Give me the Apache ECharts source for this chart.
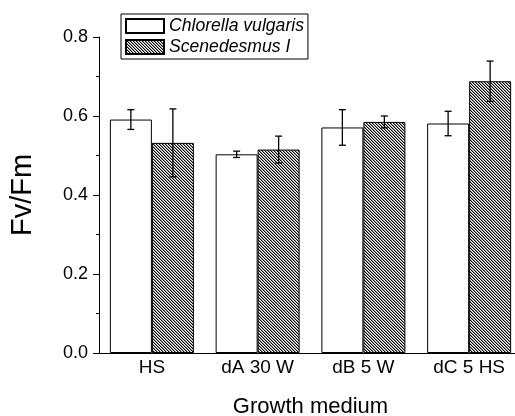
<!DOCTYPE html>
<html>
<head>
<meta charset="utf-8">
<script src="https://cdn.jsdelivr.net/npm/echarts@6/dist/echarts.min.js"></script>
<style>html,body{margin:0;padding:0;background:#fff;}#c{width:515px;height:416px;}</style>
</head>
<body>
<div id="c"></div>
<script>
var categories = ['HS', 'dA 30 W', 'dB 5 W', 'dC 5 HS'];
var chlorella = [0.591, 0.503, 0.571, 0.581];
var chlorellaErr = [0.025, 0.008, 0.045, 0.031];
var scenedesmus = [0.532, 0.515, 0.585, 0.688];
var scenedesmusErr = [0.086, 0.034, 0.015, 0.051];
var yTicks = [0.0, 0.2, 0.4, 0.6, 0.8];

var FONT = 'Arial, "Liberation Sans", sans-serif';
var BAR_W = 42;

function makeHatch() {
  var n = 3;
  var cv = document.createElement('canvas');
  cv.width = n; cv.height = n;
  var ctx = cv.getContext('2d');
  var img = ctx.createImageData(n, n);
  for (var y = 0; y < n; y++) {
    for (var x = 0; x < n; x++) {
      var m = ((x - y) % n + n) % n;
      var v = m === 0 ? 0 : (m === 1 ? 150 : 255);
      var k = (y * n + x) * 4;
      img.data[k] = v; img.data[k + 1] = v; img.data[k + 2] = v; img.data[k + 3] = 255;
    }
  }
  ctx.putImageData(img, 0, 0);
  return cv;
}
var hatch = { image: makeHatch(), repeat: 'repeat' };

function errData(vals, errs) {
  return vals.map(function (v, i) { return [i, v - errs[i], v + errs[i]]; });
}

function errSeries(vals, errs, side) {
  return {
    type: 'custom',
    z: 10,
    silent: true,
    data: errData(vals, errs),
    renderItem: function (params, api) {
      var lo = api.coord([api.value(0), api.value(1)]);
      var hi = api.coord([api.value(0), api.value(2)]);
      var x = lo[0] + side * BAR_W / 2;
      var cap = 3.5;
      var st = { stroke: '#000', lineWidth: 1.3 };
      return {
        type: 'group',
        children: [
          { type: 'line', shape: { x1: x, y1: lo[1], x2: x, y2: hi[1] }, style: st },
          { type: 'line', shape: { x1: x - cap, y1: lo[1], x2: x + cap, y2: lo[1] }, style: st },
          { type: 'line', shape: { x1: x - cap, y1: hi[1], x2: x + cap, y2: hi[1] }, style: st }
        ]
      };
    }
  };
}

var chart = echarts.init(document.getElementById('c'), null, { renderer: 'canvas' });
chart.setOption({
  animation: false,
  backgroundColor: '#fff',
  grid: { left: 99, top: 37, width: 423, height: 316, containLabel: false, outerBoundsMode: 'none' },
  legend: {
    left: 121, top: 14,
    orient: 'vertical',
    data: ['Chlorella vulgaris', 'Scenedesmus I'],
    icon: 'rect',
    itemWidth: 38, itemHeight: 14, itemGap: 1,
    padding: [2, 4, 2, 4],
    borderColor: '#000', borderWidth: 1, borderRadius: 0,
    textStyle: { fontFamily: FONT, fontSize: 17.6, lineHeight: 20, fontStyle: 'italic', color: '#000' }
  },
  xAxis: [{
    type: 'category',
    data: categories,
    position: 'bottom',
    axisLine: { lineStyle: { color: '#000', width: 1 } },
    axisTick: { alignWithLabel: true, length: 4, lineStyle: { color: '#000' } },
    axisLabel: { fontFamily: FONT, fontSize: 19, color: '#000', margin: 5 },
    name: 'Growth medium',
    nameLocation: 'middle',
    nameGap: 43,
    nameTextStyle: { fontFamily: FONT, fontSize: 22, color: '#000' }
  }, {
    type: 'category',
    data: categories,
    position: 'bottom',
    axisLine: { show: false },
    axisTick: { alignWithLabel: false, length: 3, lineStyle: { color: '#000' } },
    axisLabel: { show: false }
  }],
  yAxis: {
    type: 'value',
    min: 0, max: 0.8, interval: 0.2,
    axisLine: { show: true, lineStyle: { color: '#000', width: 1 } },
    axisTick: { show: true, length: 6, lineStyle: { color: '#000' } },
    minorTick: { show: true, splitNumber: 2, length: 3, lineStyle: { color: '#000' } },
    splitLine: { show: false },
    axisLabel: {
      fontFamily: FONT, fontSize: 18, color: '#000', margin: 11,
      formatter: function (v) { return v.toFixed(1); }
    },
    name: 'Fv/Fm',
    nameLocation: 'middle',
    nameGap: 62,
    nameTextStyle: { fontFamily: FONT, fontSize: 29, color: '#000' }
  },
  series: [{
    name: 'Chlorella vulgaris',
    type: 'bar',
    data: chlorella,
    barWidth: BAR_W,
    barGap: '0%',
    itemStyle: { color: '#fff', borderColor: '#000', borderWidth: 1 }
  }, {
    name: 'Scenedesmus I',
    type: 'bar',
    data: scenedesmus,
    barWidth: BAR_W,
    barGap: '0%',
    itemStyle: { color: hatch, borderColor: '#000', borderWidth: 1 }
  },
  errSeries(chlorella, chlorellaErr, -1),
  errSeries(scenedesmus, scenedesmusErr, 1)
  ]
});
</script>
</body>
</html>
